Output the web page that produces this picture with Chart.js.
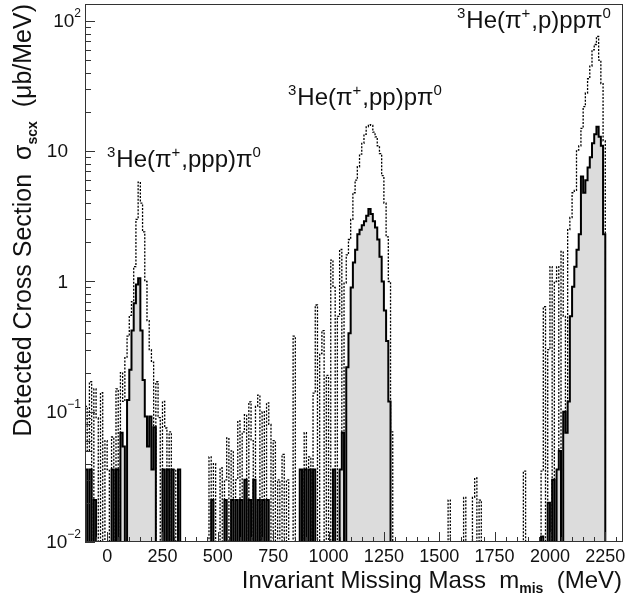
<!DOCTYPE html>
<html>
<head>
<meta charset="utf-8">
<script src="https://cdn.jsdelivr.net/npm/chart.js@4.4.0/dist/chart.umd.min.js"></script>
<style>
  html, body { margin: 0; padding: 0; background: #fff; }
  #wrap { width: 634px; height: 603px; position: relative; }
</style>
</head>
<body>
<div id="wrap"><canvas id="chart"></canvas></div>
<script>
// histogram bins: 10 MeV wide, starting at -100 MeV
const binStart = -100;
const binWidth = 10;

// dotted histogram (upper curve)
const dottedValues = [
  0.11, 0.05, 0.17, 0, 0.15, 0.09, 0, 0.14, 0, 0.06,              // -100
  0.036, 0, 0.064, 0, 0.15, 0, 0.2, 0.12, 0.26, 0.38,             // 0
  0.55, 0.7, 1.3, 3.0, 5.8, 4.0, 2.4, 1.0, 0.5, 0.3,              // 100
  0.24, 0, 0.17, 0.09, 0, 0.12, 0.075, 0, 0.07, 0,                // 200
  0.036, 0, 0.036, 0, 0, 0, 0, 0, 0, 0,                           // 300
  0, 0, 0, 0, 0, 0, 0.045, 0, 0.04, 0,                            // 400
  0, 0.037, 0, 0.03, 0.063, 0, 0.05, 0, 0.03, 0.085,              // 500
  0, 0.07, 0.095, 0, 0.119, 0.06, 0, 0.11, 0.134, 0,              // 600
  0.1, 0, 0.117, 0.08, 0, 0.06, 0, 0.03, 0, 0.047,                // 700
  0, 0.03, 0, 0, 0.38, 0, 0, 0.035, 0, 0.069,                     // 800
  0, 0.045, 0, 0.139, 0.66, 0, 0.28, 0.42, 0, 0.19,               // 900
  0, 1.46, 0.9, 0, 0.54, 1.76, 0, 0.97, 1.6, 2.1,                 // 1000
  3.0, 4.8, 6.0, 7.6, 9.5, 11.5, 13.5, 15.4, 16, 15.8,            // 1100
  14, 12.9, 11, 9.6, 6.5, 4.0, 2.2, 1.0, 0.07, 0,                 // 1200
  0, 0, 0, 0, 0, 0, 0, 0, 0, 0,                                   // 1300
  0, 0, 0, 0, 0, 0, 0, 0, 0, 0,                                   // 1400
  0, 0, 0, 0, 0.021, 0, 0, 0, 0, 0,                               // 1500
  0, 0.022, 0, 0, 0, 0.022, 0.031, 0, 0.021, 0,                   // 1600
  0, 0, 0, 0, 0, 0, 0, 0, 0, 0,                                   // 1700
  0, 0, 0, 0, 0, 0, 0, 0, 0.035, 0,                               // 1800
  0, 0, 0, 0, 0, 0, 0.035, 0.64, 0, 0.3,                          // 1900
  1.3, 0, 1.0, 1.3, 0, 1.7, 0.54, 0, 2.5, 3.1,                    // 2000
  4.8, 5.0, 10.2, 11, 15, 22, 28, 36, 45, 60,                     // 2100
  66, 76, 50, 33, 12, 0, 0, 0, 0, 0                               // 2200
];

// solid histogram (grey filled)
const solidValues = [
  0.036, 0, 0.036, 0, 0.021, 0, 0, 0, 0, 0,                       // -100
  0, 0, 0.036, 0, 0.036, 0, 0.069, 0.054, 0, 0.123,               // 0
  0.21, 0.42, 0.68, 0.95, 1.06, 0.42, 0.175, 0.092, 0.054, 0.092, // 100
  0.036, 0.076, 0, 0, 0, 0.036, 0, 0.036, 0, 0.036,               // 200
  0, 0, 0.036, 0, 0, 0, 0, 0, 0, 0,                               // 300
  0, 0, 0, 0, 0, 0, 0, 0.021, 0, 0,                               // 400
  0, 0, 0, 0.021, 0, 0, 0.021, 0, 0.021, 0,                       // 500
  0.021, 0, 0.03, 0, 0.021, 0, 0.03, 0, 0.021, 0,                 // 600
  0.021, 0, 0.021, 0, 0, 0, 0, 0, 0, 0,                           // 700
  0, 0, 0, 0, 0, 0, 0, 0.036, 0, 0.036,                           // 800
  0, 0.036, 0, 0.036, 0, 0, 0, 0, 0, 0,                           // 900
  0, 0, 0.036, 0, 0, 0.036, 0.069, 0, 0.22, 0.4,                  // 1000
  0.9, 1.4, 1.75, 2.3, 2.5, 2.7, 2.9, 3.2, 3.6, 3.3,              // 1100
  2.9, 2.6, 2.1, 1.55, 1.0, 0.6, 0.35, 0.12, 0, 0,                // 1200
  0, 0, 0, 0, 0, 0, 0, 0, 0, 0,                                   // 1300
  0, 0, 0, 0, 0, 0, 0, 0, 0, 0,                                   // 1400
  0, 0, 0, 0, 0, 0, 0, 0, 0, 0,                                   // 1500
  0, 0, 0, 0, 0, 0, 0, 0, 0, 0,                                   // 1600
  0, 0, 0, 0, 0, 0, 0, 0, 0, 0,                                   // 1700
  0, 0, 0, 0, 0, 0, 0, 0, 0, 0,                                   // 1800
  0, 0, 0, 0, 0, 0, 0.011, 0, 0, 0.02,                            // 1900
  0, 0.03, 0, 0.036, 0.05, 0, 0.1, 0.069, 0.12, 0.54,             // 2000
  0.91, 1.3, 1.75, 2.3, 6.4, 4.8, 6.0, 7.5, 9.0, 11.5,            // 2100
  13.5, 15.4, 12.9, 11, 2.3, 0, 0, 0, 0, 0                        // 2200
];

// axes
const xRange = [-100, 2330];
const yRange = [0.01, 135];
const xMajorTicks = [0, 250, 500, 750, 1000, 1250, 1500, 1750, 2000, 2250];
const xMinorStep = 50;
const yMajorTicks = [0.01, 0.1, 1, 10, 100];
const yTickLabels = [['10', '\u22122'], ['10', '\u22121'], ['1', ''], ['10', ''], ['10', '2']];

// texts
const peakLabels = [
  [['3', 'sup'], ['He(\u03C0', ''], ['+', 'sup'], [',ppp)\u03C0', ''], ['0', 'sup']],
  [['3', 'sup'], ['He(\u03C0', ''], ['+', 'sup'], [',pp)p\u03C0', ''], ['0', 'sup']],
  [['3', 'sup'], ['He(\u03C0', ''], ['+', 'sup'], [',p)pp\u03C0', ''], ['0', 'sup']]
];
const xTitle = [['Invariant Missing Mass  m', ''], ['mis', 'sub'], ['  (MeV)', '']];
const yTitle = [['Detected Cross Section  \u03C3', ''], ['scx', 'sub'], ['  (\u03BCb/MeV)', '']];

const FONT = '"Liberation Sans", Arial, sans-serif';
const FLOOR = 1e-4; // empty bins drawn below the axis

function toSteps(values) {
  const pts = values.map((v, i) => ({ x: binStart + i * binWidth, y: v > 0 ? v : FLOOR }));
  const last = values[values.length - 1];
  pts.push({ x: binStart + values.length * binWidth, y: last > 0 ? last : FLOOR });
  return pts;
}

// measure + draw text made of normal / sup / sub pieces
function drawRich(ctx, parts, x, y, align, size, subBold) {
  const fontFor = kind => {
    if (kind === 'sup') return Math.round(size * 0.62) + 'px ' + FONT;
    if (kind === 'sub') return (subBold ? 'bold ' : '') + Math.round(size * 0.58) + 'px ' + FONT;
    return size + 'px ' + FONT;
  };
  let total = 0;
  const widths = parts.map(p => {
    ctx.font = fontFor(p[1]);
    const w = ctx.measureText(p[0]).width + (p[1] === 'sup' ? 1 : 0);
    total += w;
    return w;
  });
  let cx = align === 'right' ? x - total : (align === 'center' ? x - total / 2 : x);
  ctx.textAlign = 'left';
  parts.forEach((p, i) => {
    ctx.font = fontFor(p[1]);
    let dy = 0;
    if (p[1] === 'sup') dy = -size * 0.42;
    if (p[1] === 'sub') dy = size * 0.22;
    ctx.fillText(p[0], cx, y + dy);
    cx += widths[i];
  });
}

const framePlugin = {
  id: 'frame',
  afterDatasetsDraw(chart) {
    const ctx = chart.ctx;
    const a = chart.chartArea;
    const xs = chart.scales.x;
    const ys = chart.scales.y;
    ctx.save();
    ctx.strokeStyle = '#333';
    ctx.lineWidth = 1;
    ctx.strokeRect(Math.round(a.left) + 0.5, Math.round(a.top) + 0.5,
      Math.round(a.right - a.left) - 1, Math.round(a.bottom - a.top) - 1);

    // x ticks, pointing up from the bottom
    ctx.beginPath();
    for (let v = xRange[0]; v <= xRange[1]; v += xMinorStep) {
      const px = Math.round(xs.getPixelForValue(v)) + 0.5;
      const len = xMajorTicks.includes(v) ? 10 : 5;
      ctx.moveTo(px, a.bottom);
      ctx.lineTo(px, a.bottom - len);
    }
    // y ticks, pointing right from the left
    for (let d = -2; d <= 2; d++) {
      for (let k = 1; k <= 9; k++) {
        const v = k * Math.pow(10, d);
        if (v < yRange[0] * 0.999 || v > yRange[1]) continue;
        const py = Math.round(ys.getPixelForValue(v)) + 0.5;
        const len = k === 1 ? 10 : 6;
        ctx.moveTo(a.left, py);
        ctx.lineTo(a.left + len, py);
      }
    }
    ctx.stroke();
    ctx.restore();
  },
  afterDraw(chart) {
    const ctx = chart.ctx;
    const a = chart.chartArea;
    const xs = chart.scales.x;
    const ys = chart.scales.y;
    ctx.save();
    ctx.fillStyle = '#111';

    // x tick labels
    ctx.textBaseline = 'middle';
    ctx.font = '18px ' + FONT;
    ctx.textAlign = 'center';
    xMajorTicks.forEach(v => {
      ctx.fillText(String(v), xs.getPixelForValue(v), a.bottom + 15);
    });

    // y tick labels
    yMajorTicks.forEach((v, i) => {
      const py = ys.getPixelForValue(v) + 1;
      const lab = yTickLabels[i];
      if (lab[1]) {
        drawRich(ctx, [[lab[0], ''], [lab[1], 'sup']], a.left - 3, py, 'right', 19);
      } else {
        ctx.font = '19px ' + FONT;
        ctx.textAlign = 'right';
        ctx.fillText(lab[0], a.left - 17, py);
      }
    });

    // axis titles
    ctx.textBaseline = 'alphabetic';
    drawRich(ctx, xTitle, a.right - 1, 588, 'right', 24, true);
    ctx.save();
    ctx.translate(31, a.top);
    ctx.rotate(-Math.PI / 2);
    drawRich(ctx, yTitle, 0, 0, 'right', 25, true);
    ctx.restore();

    // peak labels
    drawRich(ctx, peakLabels[0], a.left + 22, 167, 'left', 24);
    drawRich(ctx, peakLabels[1], a.left + 203, 105, 'left', 24);
    drawRich(ctx, peakLabels[2], a.left + 372, 28, 'left', 24);
    ctx.restore();
  }
};

new Chart(document.getElementById('chart'), {
  type: 'line',
  data: {
    datasets: [
      {
        data: toSteps(solidValues),
        stepped: true,
        borderColor: '#000',
        borderWidth: 2,
        backgroundColor: '#dcdcdc',
        fill: 'start',
        pointRadius: 0
      },
      {
        data: toSteps(dottedValues),
        stepped: true,
        borderColor: '#000',
        borderWidth: 1.3,
        borderDash: [2, 1.5],
        fill: false,
        pointRadius: 0
      }
    ]
  },
  options: {
    responsive: true,
    maintainAspectRatio: false,
    animation: false,
    events: [],
    layout: { padding: { left: 85, top: 4, right: 11, bottom: 61 } },
    plugins: {
      legend: { display: false },
      tooltip: { enabled: false }
    },
    scales: {
      x: { type: 'linear', min: xRange[0], max: xRange[1], display: false },
      y: { type: 'logarithmic', min: yRange[0], max: yRange[1], display: false }
    }
  },
  plugins: [framePlugin]
});
</script>
</body>
</html>
